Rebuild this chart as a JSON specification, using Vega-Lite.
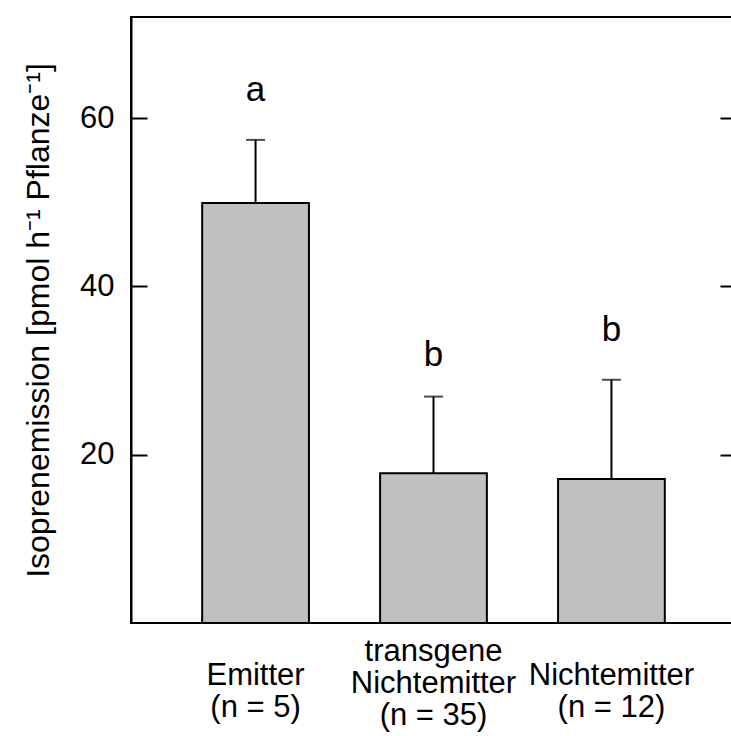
{
  "$schema": "https://vega.github.io/schema/vega-lite/v6.json",
  "width": 605,
  "height": 606,
  "autosize": {"type": "none"},
  "padding": {"left": 131, "top": 17, "right": 0, "bottom": 113},
  "background": "white",
  "config": {
    "font": "Liberation Sans",
    "view": {"stroke": "black", "strokeWidth": 2},
    "axis": {"grid": false, "labelColor": "black", "titleColor": "black", "domainColor": "black", "tickColor": "black"}
  },
  "data": {
    "values": [
      {"group": "Emitter|(n = 5)", "mean": 49.9, "upper": 57.4, "letter": "a", "letter_pos": 63.3},
      {"group": "transgene|Nichtemitter|(n = 35)", "mean": 17.8, "upper": 26.9, "letter": "b", "letter_pos": 31.8},
      {"group": "Nichtemitter|(n = 12)", "mean": 17.1, "upper": 28.9, "letter": "b", "letter_pos": 34.8}
    ]
  },
  "encoding": {
    "x": {
      "field": "group",
      "type": "nominal",
      "sort": null,
      "scale": {"paddingInner": 0.4, "paddingOuter": 0.4},
      "axis": {
        "title": null,
        "domain": false,
        "ticks": false,
        "tickSize": 0,
        "labelAngle": 0,
        "labelExpr": "split(datum.label, '|')",
        "labelFontSize": 31,
        "labelLineHeight": 32,
        "labelBaseline": "middle",
        "labelPadding": {"condition": {"test": "indexof(datum.value, 'transgene') >= 0", "value": 28}, "value": 52}
      }
    }
  },
  "layer": [
    {
      "mark": {"type": "bar", "fill": "#c0c0c0", "stroke": "black", "strokeWidth": 2},
      "encoding": {
        "y": {
          "field": "mean",
          "type": "quantitative",
          "scale": {"domain": [0, 72], "nice": false},
          "axis": {
            "orient": "left",
            "values": [20, 40, 60],
            "tickSize": -16,
            "tickWidth": 2,
            "domainWidth": 2,
            "labelFontSize": 31,
            "labelPadding": 33,
            "title": "Isoprenemission [pmol h⁻¹  Pflanze⁻¹]",
            "titleFontSize": 32,
            "titleFontWeight": "normal",
            "titlePadding": 24
          }
        }
      }
    },
    {
      "mark": {"type": "rule", "stroke": "black", "strokeWidth": 2},
      "encoding": {
        "y": {
          "field": "mean",
          "type": "quantitative",
          "scale": {"domain": [0, 72], "nice": false},
          "axis": {
            "orient": "right",
            "values": [20, 40, 60],
            "tickSize": -16,
            "tickWidth": 2,
            "domainWidth": 2,
            "labels": false,
            "title": null
          }
        },
        "y2": {"field": "upper"}
      }
    },
    {
      "mark": {"type": "tick", "color": "black", "size": 19, "thickness": 2},
      "encoding": {
        "y": {"field": "upper", "type": "quantitative", "scale": {"domain": [0, 72], "nice": false}, "axis": null}
      }
    },
    {
      "mark": {"type": "text", "fontSize": 35, "baseline": "middle", "color": "black"},
      "encoding": {
        "y": {"field": "letter_pos", "type": "quantitative", "scale": {"domain": [0, 72], "nice": false}, "axis": null},
        "text": {"field": "letter"}
      }
    }
  ],
  "resolve": {"axis": {"y": "independent"}}
}
